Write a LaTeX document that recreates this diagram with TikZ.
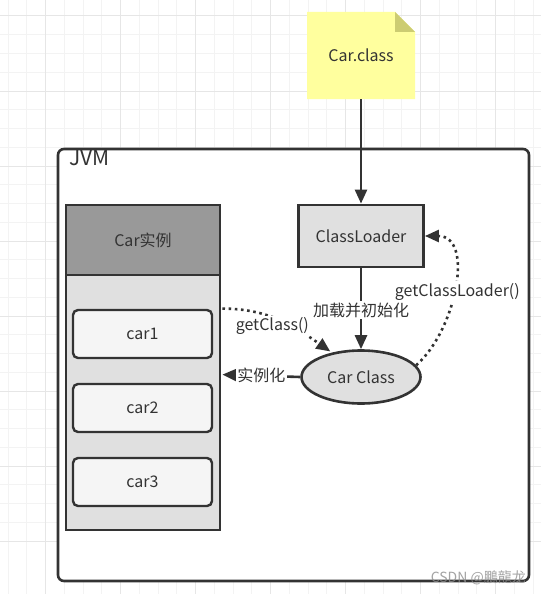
\documentclass[tikz,border=0pt]{standalone}
\usepackage{fontspec}
\setmainfont{Noto Sans CJK SC}
\usetikzlibrary{arrows.meta,shapes.geometric,calc}
\definecolor{ink}{HTML}{333333}
\definecolor{gridminor}{HTML}{F3F3F3}
\definecolor{gridmajor}{HTML}{E6E6E6}
\definecolor{hdrfill}{HTML}{999999}
\definecolor{boxfill}{HTML}{E0E0E0}
\definecolor{carfill}{HTML}{F5F5F5}
\definecolor{notefill}{HTML}{FFFF9E}
\definecolor{foldfill}{HTML}{CCCC72}
\tikzset{
  base/.style={font=\fontsize{16}{18}\selectfont, text=ink, inner sep=0pt},
  jvmbox/.style={base, draw=ink, line width=2.6pt, fill=white, rounded corners=6pt},
  greybox/.style={base, draw=ink, line width=2.8pt, fill=boxfill},
  hdrbox/.style={base, draw=ink, line width=2.8pt, fill=hdrfill},
  carbox/.style={base, draw=ink, line width=2.4pt, fill=carfill, rounded corners=5pt, minimum width=139pt, minimum height=48pt},
  ellbox/.style={base, ellipse, draw=ink, line width=2.6pt, fill=boxfill, minimum width=119pt, minimum height=53pt},
  lbl/.style={base, fill=white, inner sep=1.5pt},
  arr/.style={draw=ink, line width=2.6pt, -{Triangle[length=14pt,width=12pt]}},
  dotarr/.style={draw=ink, line width=2.6pt, dash pattern=on 2.6pt off 3.6pt, -{Triangle[length=14pt,width=12pt]}},
}
\begin{document}
\begin{tikzpicture}[x=1pt,y=-1pt]
\useasboundingbox (0,0) rectangle (541,594);
\fill[white] (0,0) rectangle (541,594);
% grid
\foreach \i in {0,...,28} {
  \draw[gridminor, line width=1pt] ({8+\i*18.75},0) -- ({8+\i*18.75},594);
  \draw[gridminor, line width=1pt] (0,{16+\i*18.75}) -- (541,{16+\i*18.75});
}
\foreach \i in {0,...,7} {
  \draw[gridmajor, line width=1pt] ({45.5+\i*75},0) -- ({45.5+\i*75},594);
  \draw[gridmajor, line width=1pt] (0,{16+\i*75}) -- (541,{16+\i*75});
}
% JVM container
\node[jvmbox, minimum width=471pt, minimum height=432pt] (jvm) at (293.5,365) {};
\node[base, font=\fontsize{21}{23}\selectfont, anchor=north west] (jvmlbl) at (69,150) {JVM};
% note
\node[base, minimum width=108pt, minimum height=87pt,
  path picture={
    \fill[notefill] (path picture bounding box.north west) -- ([xshift=-20pt]path picture bounding box.north east)
      -- ([yshift=-20pt]path picture bounding box.north east) -- (path picture bounding box.south east)
      -- (path picture bounding box.south west) -- cycle;
    \fill[foldfill] ([xshift=-20pt]path picture bounding box.north east) -- ([xshift=-20pt,yshift=-20pt]path picture bounding box.north east)
      -- ([yshift=-20pt]path picture bounding box.north east) -- cycle;
  }] (note) at (361,55.5) {Car.class};
% instance group
\node[greybox, minimum width=154pt, minimum height=325pt] (inst) at (143,367.5) {};
\node[hdrbox, minimum width=154pt, minimum height=70pt] (hdr) at (143,240) {Car实例};
\node[carbox] (car1) at (142.5,334) {car1};
\node[carbox] (car2) at (142.5,408) {car2};
\node[carbox] (car3) at (142.5,482) {car3};
% class loader and class
\node[greybox, minimum width=125pt, minimum height=62pt] (cl) at (361,236) {ClassLoader};
\node[ellbox] (cc) at (361,377) {Car Class};
% connectors
\draw[arr] (note.south) -- (cl.north);
\draw[arr] (cl.south) -- node[lbl, pos=0.52] {加载并初始化} (cc.north);
\draw[dotarr, shorten >=2pt] ($(inst.north east)+(1,105)$) to[out=0, in=145] node[lbl, pos=0.5, xshift=-8pt, yshift=-5pt] {getClass()} (cc.140);
\draw[dotarr] (cc.12) .. controls +(40,-35) and +(50,0) .. node[lbl, pos=0.5, xshift=3pt, yshift=-4pt] {getClassLoader()} (cl.east);
\draw[arr] (cc.west) -- node[lbl, pos=0.5] {实例化} ($(inst.north east)+(1,171)$);
% watermark
\node[base, text=black!45, opacity=0.8, font=\fontsize{14}{15}\selectfont, anchor=east] (wm) at (526,578) {CSDN @鵬龍龙};
\end{tikzpicture}
\end{document}
